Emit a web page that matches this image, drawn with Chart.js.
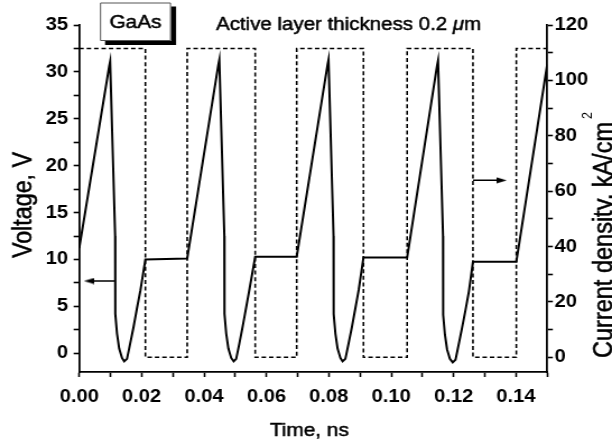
<!DOCTYPE html>
<html>
<head>
<meta charset="utf-8">
<script src="https://cdn.jsdelivr.net/npm/chart.js@4.4.1/dist/chart.umd.min.js"></script>
<style>
  html, body { margin: 0; padding: 0; background: #fff; overflow: hidden; }
  /* the plot is laid out 546px wide and widened to 612px, which gives the broad lettering */
  #plot { display: block; transform: scaleX(1.12088); transform-origin: 0 0; }
</style>
</head>
<body>
<canvas id="plot" width="546" height="445"></canvas>
<script>
// voltage across the diode, V, against time, ns
const timeV = [
  0.0000, 0.0096, 0.0099, 0.0115, 0.01155, 0.0121, 0.0128, 0.0137, 0.0144, 0.0153, 0.0163, 0.0174, 0.0185, 0.0196, 0.0212, 0.0346,
  0.0446, 0.0449, 0.0465, 0.04655, 0.0471, 0.0478, 0.0487, 0.0495, 0.0503, 0.0513, 0.0524, 0.0535, 0.0546, 0.0564, 0.0697,
  0.0796, 0.0799, 0.0815, 0.08155, 0.0821, 0.0828, 0.0837, 0.0844, 0.0853, 0.0863, 0.0874, 0.0885, 0.0896, 0.0911, 0.1051,
  0.1147, 0.1150, 0.1166, 0.11665, 0.1172, 0.1179, 0.1188, 0.1197, 0.1206, 0.1216, 0.1227, 0.1238, 0.1249, 0.1262, 0.1401,
  0.1500
];
const voltage = [
  11.2, 30.6, 31.1, 12.5, 4.2, 2.1, 0.5, -0.5, -0.86, -0.6, 1.0, 2.8, 4.8, 6.7, 10.0, 10.1,
  30.8, 31.3, 12.5, 4.2, 2.1, 0.5, -0.5, -0.86, -0.6, 1.0, 2.9, 4.9, 6.9, 10.3, 10.3,
  30.8, 31.3, 12.5, 4.2, 2.1, 0.5, -0.5, -0.86, -0.6, 1.0, 2.8, 4.8, 6.8, 10.2, 10.2,
  30.7, 31.2, 12.5, 4.1, 2.0, 0.4, -0.6, -0.97, -0.7, 0.9, 2.7, 4.6, 6.6, 9.75, 9.75,
  30.8
];

// current density pulses, kA/cm2
const timeJ = [0, 0.0212, 0.0212, 0.0346, 0.0346, 0.0564, 0.0564, 0.0697, 0.0697, 0.0911, 0.0911, 0.1051, 0.1051, 0.1262, 0.1262, 0.1401, 0.1401, 0.15];
const currentDensity = [111.5, 111.5, 0, 0, 111.5, 111.5, 0, 0, 111.5, 111.5, 0, 0, 111.5, 111.5, 0, 0, 111.5, 111.5];

// arrows telling which curve goes with which axis (tail, head)
const arrowVT = [0.01154, 0.0031];
const arrowVV = [7.7, 7.7];
const arrowJT = [0.1262, 0.1354];
const arrowJJ = [63.9, 63.9];

const xTicks = [0, 0.02, 0.04, 0.06, 0.08, 0.10, 0.12, 0.14];
const xTickLabels = ['0.00', '0.02', '0.04', '0.06', '0.08', '0.10', '0.12', '0.14'];
const vTicks = [0, 5, 10, 15, 20, 25, 30, 35];
const vTickLabels = ['0', '5', '10', '15', '20', '25', '30', '35'];
const jTicks = [0, 20, 40, 60, 80, 100, 120];
const jTickLabels = ['0', '20', '40', '60', '80', '100', '120'];

const FONT = "'Liberation Sans', Arial, Helvetica, sans-serif";

// majors plus one minor tick halfway between (and after) each pair
function withMinors(major, max) {
  const step = major[1] - major[0];
  const out = [];
  major.forEach(v => {
    out.push(v);
    if (v + step / 2 <= max + 1e-9) out.push(v + step / 2);
  });
  return out;
}
function labelFor(values, labels, v) {
  const i = values.findIndex(t => Math.abs(t - v) < 1e-9);
  return i < 0 ? '' : labels[i];
}
const xy = (xs, ys) => xs.map((x, i) => ({ x: x, y: ys[i] }));

// filled arrowhead pointing right, used as a point style
const arrowHead = document.createElement('canvas');
arrowHead.width = 9;
arrowHead.height = 7;
(function () {
  const c = arrowHead.getContext('2d');
  c.fillStyle = '#000';
  c.beginPath();
  c.moveTo(0, 0.6);
  c.lineTo(9, 3.5);
  c.lineTo(0, 6.4);
  c.closePath();
  c.fill();
})();

const tickFont = { family: FONT, size: 18, weight: 'bold' };
const gridOpts = { drawOnChartArea: false, tickLength: 5, tickColor: '#000', tickWidth: 1.6 };
const borderOpts = { color: '#000', width: 1.8 };

// text drawn with a thin outline so the regular weight reads a little heavier
function heavyText(ctx, s, x, y) {
  ctx.strokeText(s, x, y);
  ctx.fillText(s, x, y);
}

const decor = {
  id: 'decor',
  afterDraw(chart) {
    const ctx = chart.ctx;
    const area = chart.chartArea;
    ctx.save();
    ctx.fillStyle = '#000';
    ctx.strokeStyle = '#000';
    ctx.lineWidth = 0.5;
    ctx.lineJoin = 'round';
    ctx.textBaseline = 'alphabetic';

    // x title
    ctx.font = '18.6px ' + FONT;
    ctx.textAlign = 'center';
    heavyText(ctx, 'Time, ns', (area.left + area.right) / 2 - 3.5, 436);

    // left title
    ctx.save();
    ctx.translate(28.3, 205);
    ctx.rotate(-Math.PI / 2);
    ctx.font = '23.3px ' + FONT;
    heavyText(ctx, 'Voltage, V', 0, 0);
    ctx.restore();

    // right title with superscript
    ctx.save();
    ctx.translate(545.5, 240);
    ctx.rotate(-Math.PI / 2);
    ctx.font = '23.5px ' + FONT;
    const main = 'Current density, kA/cm';
    const w = ctx.measureText(main).width;
    heavyText(ctx, main, 0, 0);
    ctx.font = '12.5px ' + FONT;
    ctx.textAlign = 'left';
    ctx.fillText('2', w / 2 + 3, -17.6);
    ctx.restore();

    // sample label box with drop shadow
    const bx = 89.2, by = 2.5, bw = 63.4, bh = 38.5;
    ctx.fillStyle = '#000';
    ctx.fillRect(bx + 4.5, by + 4, bw, bh);
    ctx.fillStyle = '#fff';
    ctx.fillRect(bx, by, bw, bh);
    ctx.strokeStyle = '#555';
    ctx.lineWidth = 1;
    ctx.strokeRect(bx + 0.5, by + 0.5, bw - 1, bh - 1);
    ctx.fillStyle = '#000';
    ctx.strokeStyle = '#000';
    ctx.lineWidth = 0.5;
    ctx.font = '18.6px ' + FONT;
    ctx.textAlign = 'center';
    heavyText(ctx, 'GaAs', bx + bw / 2, 28.3);

    // heading, with an italic mu
    ctx.textAlign = 'left';
    let x = 192.7;
    const parts = [['Active layer thickness 0.2 ', ''], ['\u03BC', 'italic '], ['m', '']];
    parts.forEach(p => {
      ctx.font = p[1] + '18.3px ' + FONT;
      heavyText(ctx, p[0], x, 30);
      x += ctx.measureText(p[0]).width;
    });
    ctx.restore();
  }
};

new Chart(document.getElementById('plot'), {
  type: 'line',
  data: {
    datasets: [
      {
        data: xy(timeJ, currentDensity), yAxisID: 'yJ',
        borderColor: '#000', borderWidth: 1.6, borderDash: [4, 2.6],
        pointRadius: 0, fill: false, tension: 0
      },
      {
        data: xy(timeV, voltage), yAxisID: 'yV',
        borderColor: '#000', borderWidth: 2,
        pointRadius: 0, fill: false, tension: 0
      },
      {
        data: xy(arrowVT, arrowVV), yAxisID: 'yV',
        borderColor: '#000', borderWidth: 1.5,
        pointStyle: arrowHead, pointRotation: 180,
        pointRadius: c => c.dataIndex === 1 ? 3 : 0
      },
      {
        data: xy(arrowJT, arrowJJ), yAxisID: 'yJ',
        borderColor: '#000', borderWidth: 1.5,
        pointStyle: arrowHead, pointRotation: 0,
        pointRadius: c => c.dataIndex === 1 ? 3 : 0
      }
    ]
  },
  options: {
    responsive: false,
    animation: false,
    layout: { padding: { top: 25, left: 0, right: 0, bottom: 0 } },
    plugins: { legend: { display: false }, tooltip: { enabled: false } },
    scales: {
      x: {
        type: 'linear', min: 0, max: 0.15,
        afterBuildTicks: s => { s.ticks = withMinors(xTicks, 0.15).map(v => ({ value: v })); },
        afterFit: s => { s.height = 73; },
        ticks: {
          autoSkip: false, maxRotation: 0, color: '#000', font: tickFont, padding: 9,
          callback: v => labelFor(xTicks, xTickLabels, v)
        },
        grid: gridOpts,
        border: borderOpts
      },
      yV: {
        type: 'linear', position: 'left', min: -2, max: 35,
        afterBuildTicks: s => { s.ticks = withMinors(vTicks, 35).map(v => ({ value: v })); },
        afterFit: s => { s.width = 70.7; },
        ticks: {
          autoSkip: false, color: '#000', font: tickFont, padding: 5,
          callback: v => labelFor(vTicks, vTickLabels, v)
        },
        grid: gridOpts,
        border: borderOpts
      },
      yJ: {
        type: 'linear', position: 'right', min: -5.3, max: 120,
        afterBuildTicks: s => { s.ticks = withMinors(jTicks, 120).map(v => ({ value: v })); },
        afterFit: s => { s.width = 57.8; },
        ticks: {
          autoSkip: false, color: '#000', font: tickFont, padding: 1.5,
          callback: v => labelFor(jTicks, jTickLabels, v)
        },
        grid: gridOpts,
        border: borderOpts
      }
    }
  },
  plugins: [decor]
});
</script>
</body>
</html>
